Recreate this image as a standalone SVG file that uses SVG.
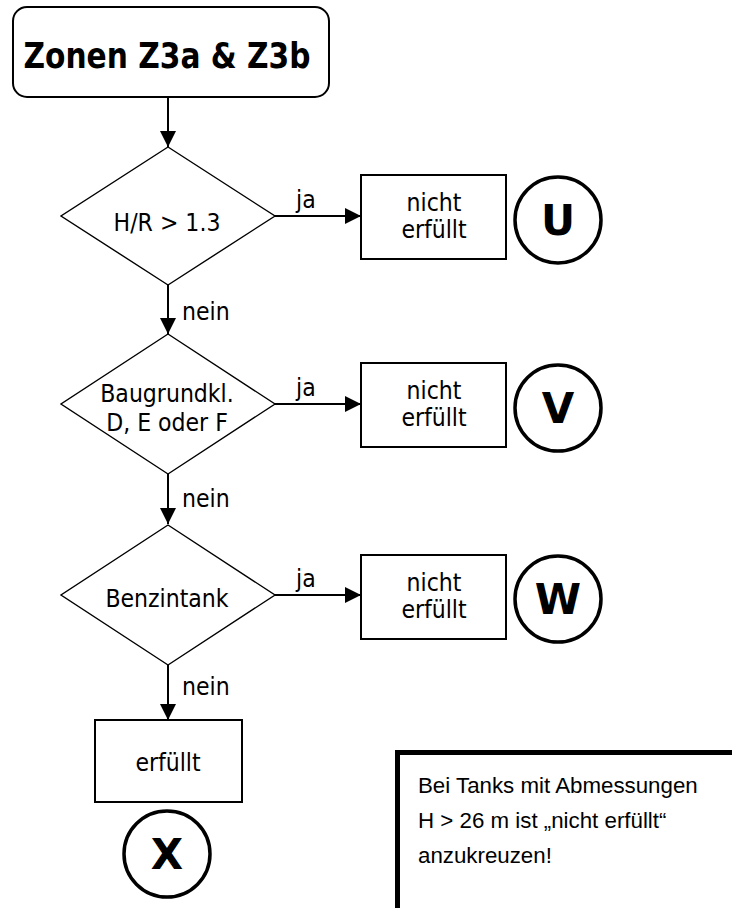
<svg xmlns="http://www.w3.org/2000/svg" width="732" height="908" viewBox="0 0 732 908">
  <style>
    .t { font-family: "DejaVu Sans Condensed", "DejaVu Sans", sans-serif; font-size: 24.5px; fill: #000; }
    .title { font-family: "DejaVu Sans Condensed", "DejaVu Sans", sans-serif; font-size: 36px; font-weight: bold; fill: #000; }
    .letter { font-family: "DejaVu Sans", sans-serif; font-size: 42px; font-weight: bold; fill: #000; }
    .note { font-family: "Liberation Sans", Arial, sans-serif; font-size: 22.3px; fill: #000; }
    .box { fill: #fff; stroke: #000; stroke-width: 2; }
    .dia { fill: #fff; stroke: #000; stroke-width: 1.4; }
    .circ { fill: #fff; stroke: #000; stroke-width: 3.5; }
    .conn { stroke: #000; stroke-width: 2; fill: none; }
  </style>
  <defs>
    <marker id="arr" viewBox="0 0 16 16" refX="16" refY="8" markerWidth="16" markerHeight="16" markerUnits="userSpaceOnUse" orient="auto">
      <path d="M0,0 L16,8 L0,16 Z" fill="#000"/>
    </marker>
  </defs>
  <rect width="732" height="908" fill="#fff"/>

  <g id="connectors">
    <line class="conn" x1="168" y1="97" x2="168" y2="147" marker-end="url(#arr)"/>
    <line class="conn" x1="275" y1="216" x2="361" y2="216" marker-end="url(#arr)"/>
    <line class="conn" x1="168" y1="285" x2="168" y2="334" marker-end="url(#arr)"/>
    <line class="conn" x1="275" y1="404" x2="361" y2="404" marker-end="url(#arr)"/>
    <line class="conn" x1="168" y1="474" x2="168" y2="524" marker-end="url(#arr)"/>
    <line class="conn" x1="275" y1="595" x2="361" y2="595" marker-end="url(#arr)"/>
    <line class="conn" x1="168" y1="665" x2="168" y2="720" marker-end="url(#arr)"/>
    <text class="t" x="296" y="208">ja</text>
    <text class="t" x="296" y="396">ja</text>
    <text class="t" x="296" y="587">ja</text>
    <text class="t" x="182" y="320">nein</text>
    <text class="t" x="182" y="507">nein</text>
    <text class="t" x="182" y="695">nein</text>
  </g>

  <g id="start">
    <rect class="box" x="13" y="7" width="316" height="90" rx="14" ry="14"/>
    <text class="title" x="167" y="68" text-anchor="middle" textLength="287" lengthAdjust="spacingAndGlyphs">Zonen Z3a &amp; Z3b</text>
  </g>

  <g id="d1">
    <polygon class="dia" points="168,147 275,216 168,285 61,216"/>
    <text class="t" x="167" y="231" text-anchor="middle">H/R &gt; 1.3</text>
  </g>
  <g id="r1">
    <rect class="box" x="361" y="175" width="145" height="84"/>
    <text class="t" x="434" y="211" text-anchor="middle">nicht</text>
    <text class="t" x="434" y="238" text-anchor="middle">erfüllt</text>
  </g>
  <g id="cU">
    <circle class="circ" cx="558" cy="220" r="43"/>
    <text class="letter" x="558" y="235" text-anchor="middle">U</text>
  </g>

  <g id="d2">
    <polygon class="dia" points="168,334 275,404 168,474 61,404"/>
    <text class="t" x="167" y="402" text-anchor="middle">Baugrundkl.</text>
    <text class="t" x="167" y="431" text-anchor="middle">D, E oder F</text>
  </g>
  <g id="r2">
    <rect class="box" x="361" y="363" width="145" height="84"/>
    <text class="t" x="434" y="399" text-anchor="middle">nicht</text>
    <text class="t" x="434" y="426" text-anchor="middle">erfüllt</text>
  </g>
  <g id="cV">
    <circle class="circ" cx="558" cy="408" r="43"/>
    <text class="letter" x="558" y="423" text-anchor="middle">V</text>
  </g>

  <g id="d3">
    <polygon class="dia" points="168,525 275,595 168,665 61,595"/>
    <text class="t" x="167" y="607" text-anchor="middle">Benzintank</text>
  </g>
  <g id="r3">
    <rect class="box" x="361" y="555" width="145" height="84"/>
    <text class="t" x="434" y="591" text-anchor="middle">nicht</text>
    <text class="t" x="434" y="618" text-anchor="middle">erfüllt</text>
  </g>
  <g id="cW">
    <circle class="circ" cx="558" cy="599" r="43"/>
    <text class="letter" x="558" y="614" text-anchor="middle">W</text>
  </g>

  <g id="r4">
    <rect class="box" x="95" y="720" width="147" height="82"/>
    <text class="t" x="168" y="771" text-anchor="middle">erfüllt</text>
  </g>
  <g id="cX">
    <circle class="circ" cx="167" cy="854" r="43"/>
    <text class="letter" x="167" y="869" text-anchor="middle">X</text>
  </g>

  <g id="note">
    <rect x="397.5" y="752.5" width="400" height="200" fill="#fff" stroke="#000" stroke-width="5"/>
    <text class="note" x="418" y="793">Bei Tanks mit Abmessungen</text>
    <text class="note" x="418" y="828">H &gt; 26 m ist „nicht erfüllt“</text>
    <text class="note" x="418" y="863">anzukreuzen!</text>
  </g>
</svg>
